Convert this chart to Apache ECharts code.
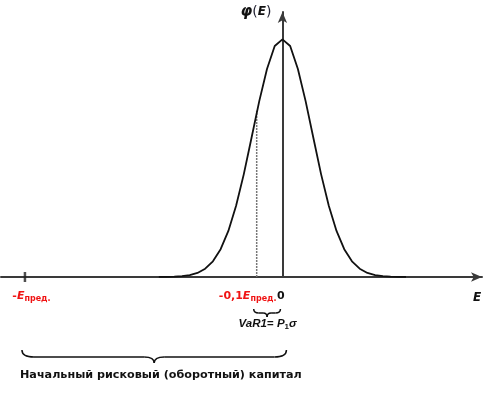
<!DOCTYPE html>
<html><head><meta charset="utf-8">
<script src="https://cdn.jsdelivr.net/npm/echarts@6/dist/echarts.min.js"></script>
<style>html,body{margin:0;padding:0;background:#fff}#c{width:487px;height:393px}</style>
</head><body><div id="c"></div>
<script>
// E in % of E_пред (0 = origin, -100 = -E_пред)
const curveX = [-48,-45,-42,-39,-36,-33,-30,-27,-24,-21,-18,-15,-12,-9,-6,-3,0,3,6,9,12,15,18,21,24,27,30,33,36,39,42,45,48];
const curveY = [0.0002,0.0005,0.0014,0.0035,0.008,0.017,0.035,0.066,0.117,0.194,0.300,0.433,0.586,0.740,0.875,0.972,1.0,0.972,0.875,0.740,0.586,0.433,0.300,0.194,0.117,0.066,0.035,0.017,0.008,0.0035,0.0014,0.0005,0.0002];
const limitValue = -100;      // -E_пред
const varValue = -10;         // -0,1 E_пред
const zeroValue = 0;
const varLineTop = 0.70;
const tickValues = [-100, -10];
const zeroLabel = '0';
const axisName = 'E';
const bigBraceText = 'Начальный рисковый (оборотный) капитал';

const FONT = 'DejaVu Sans';
const AFONT = 'Liberation Sans';
const RED = '#f01414';
const chart = echarts.init(document.getElementById('c'));

function labelFmt(v) {
  if (v === -100) return '{sp| }{r|-}{ri|E}{rs|пред.}';
  if (v === -10) return '{r|-0,1}{ri|E}{rs|пред.}{sp2| }';
  return '';
}

chart.setOption({
  animation: false,
  grid: { left: 1, right: 5, top: 12, bottom: 116, containLabel: false },
  xAxis: {
    type: 'value', min: -109.3, max: 77.5,
    name: axisName,
    nameLocation: 'end', nameGap: -5,
    nameTextStyle: { fontFamily: FONT, fontSize: 12, fontWeight: 'bold', fontStyle: 'italic', color: '#111', align: 'center', verticalAlign: 'top', padding: [15, 0, 0, 0] },
    axisLine: { show: true, onZero: true, symbol: ['none', 'arrow'], symbolSize: [7, 11], lineStyle: { color: '#3a3a3a', width: 2 } },
    axisTick: { show: false },
    splitLine: { show: false },
    axisLabel: {
      customValues: tickValues,
      margin: 12,
      hideOverlap: false,
      formatter: labelFmt,
      rich: {
        sp: { width: 13, fontSize: 11 },
        sp2: { width: 18, fontSize: 11 },
        r: { fontFamily: FONT, fontSize: 11, fontWeight: 'bold', color: RED, lineHeight: 14 },
        ri: { fontFamily: FONT, fontSize: 11, fontWeight: 'bold', fontStyle: 'italic', color: RED, lineHeight: 14 },
        rs: { fontFamily: FONT, fontSize: 8, fontWeight: 'bold', color: RED, lineHeight: 6, verticalAlign: 'bottom' }
      }
    }
  },
  yAxis: {
    type: 'value', min: 0, max: 1.115,
    name: '{p|φ}{t|(}{e|E}{t|)}',
    nameLocation: 'end', nameGap: 0,
    nameTextStyle: { align: 'right', verticalAlign: 'middle', padding: [0, 11, 0, 0],
      rich: {
        p: { fontFamily: FONT, fontSize: 15, fontWeight: 'bold', fontStyle: 'italic', color: '#111', lineHeight: 16 },
        t: { fontFamily: FONT, fontSize: 14, color: '#223', lineHeight: 16 },
        e: { fontFamily: FONT, fontSize: 12, fontWeight: 'bold', fontStyle: 'italic', color: '#111', lineHeight: 16 }
      } },
    axisLine: { show: true, onZero: true, symbol: ['none', 'arrow'], symbolSize: [7, 11], lineStyle: { color: '#3a3a3a', width: 2 } },
    axisTick: { show: false },
    axisLabel: { show: false },
    splitLine: { show: false }
  },
  series: [
    { type: 'line', data: curveX.map((x, i) => [x, curveY[i]]), symbol: 'none', smooth: false,
      lineStyle: { color: '#111', width: 1.8 }, z: 3 },
    { type: 'line', data: [[varValue, 0], [varValue, varLineTop]], symbol: 'none',
      lineStyle: { color: '#777', width: 1.5, type: [2, 1] }, z: 2 },
    { type: 'scatter', data: [[limitValue, 0]], symbol: 'rect', symbolSize: [2.5, 10],
      itemStyle: { color: '#222' }, z: 4 }
  ]
});

function brace(x0, x1, yTop, yMid, yBot, r, r2) {
  const xt = (x0 + x1) / 2;
  const st = { stroke: '#111', lineWidth: 1.5, fill: null };
  return [
    { type: 'bezierCurve', shape: { x1: x0, y1: yTop, cpx1: x0, cpy1: yMid, x2: x0 + r, y2: yMid }, style: st },
    { type: 'line', shape: { x1: x0 + r, y1: yMid, x2: xt - r2, y2: yMid }, style: st },
    { type: 'bezierCurve', shape: { x1: xt - r2, y1: yMid, cpx1: xt, cpy1: yMid, x2: xt, y2: yBot }, style: st },
    { type: 'bezierCurve', shape: { x1: xt, y1: yBot, cpx1: xt, cpy1: yMid, x2: xt + r2, y2: yMid }, style: st },
    { type: 'line', shape: { x1: xt + r2, y1: yMid, x2: x1 - r, y2: yMid }, style: st },
    { type: 'bezierCurve', shape: { x1: x1 - r, y1: yMid, cpx1: x1, cpy1: yMid, x2: x1, y2: yTop }, style: st }
  ];
}

const pLim = chart.convertToPixel({ gridIndex: 0 }, [limitValue, 0]);
const pVar = chart.convertToPixel({ gridIndex: 0 }, [varValue, 0]);
const pZero = chart.convertToPixel({ gridIndex: 0 }, [zeroValue, 0]);
const base = pZero[1];

const els = []
  .concat(brace(pLim[0] - 3, pZero[0] + 4, base + 73, base + 80, base + 86, 12, 10))
  .concat(brace(pVar[0] - 3, pZero[0] - 2, base + 32, base + 36, base + 40, 5, 4));
els.push({ type: 'text', x: pZero[0] - 1.5, y: base + 19,
  style: { text: zeroLabel, fontFamily: FONT, fontSize: 11, fontWeight: 'bold', fill: '#111', align: 'center', verticalAlign: 'middle' } });
els.push({ type: 'text', x: (pVar[0] + pZero[0]) / 2 - 2, y: base + 47,
  style: { text: '{i|VaR1=} {i|P}{s|1}{i|σ}', align: 'center', verticalAlign: 'middle',
    rich: {
      i: { fontFamily: AFONT, fontSize: 11.5, fontWeight: 'bold', fontStyle: 'italic', fill: '#111', lineHeight: 14 },
      s: { fontFamily: AFONT, fontSize: 8, fontWeight: 'bold', fill: '#111', lineHeight: 5, verticalAlign: 'bottom' }
    } } });
els.push({ type: 'text', x: 20, y: base + 98,
  style: { text: bigBraceText, fontFamily: FONT, fontSize: 11.2, fontWeight: 'bold', fill: '#111', align: 'left', verticalAlign: 'middle' } });

chart.setOption({ graphic: { elements: els } });
</script></body></html>
